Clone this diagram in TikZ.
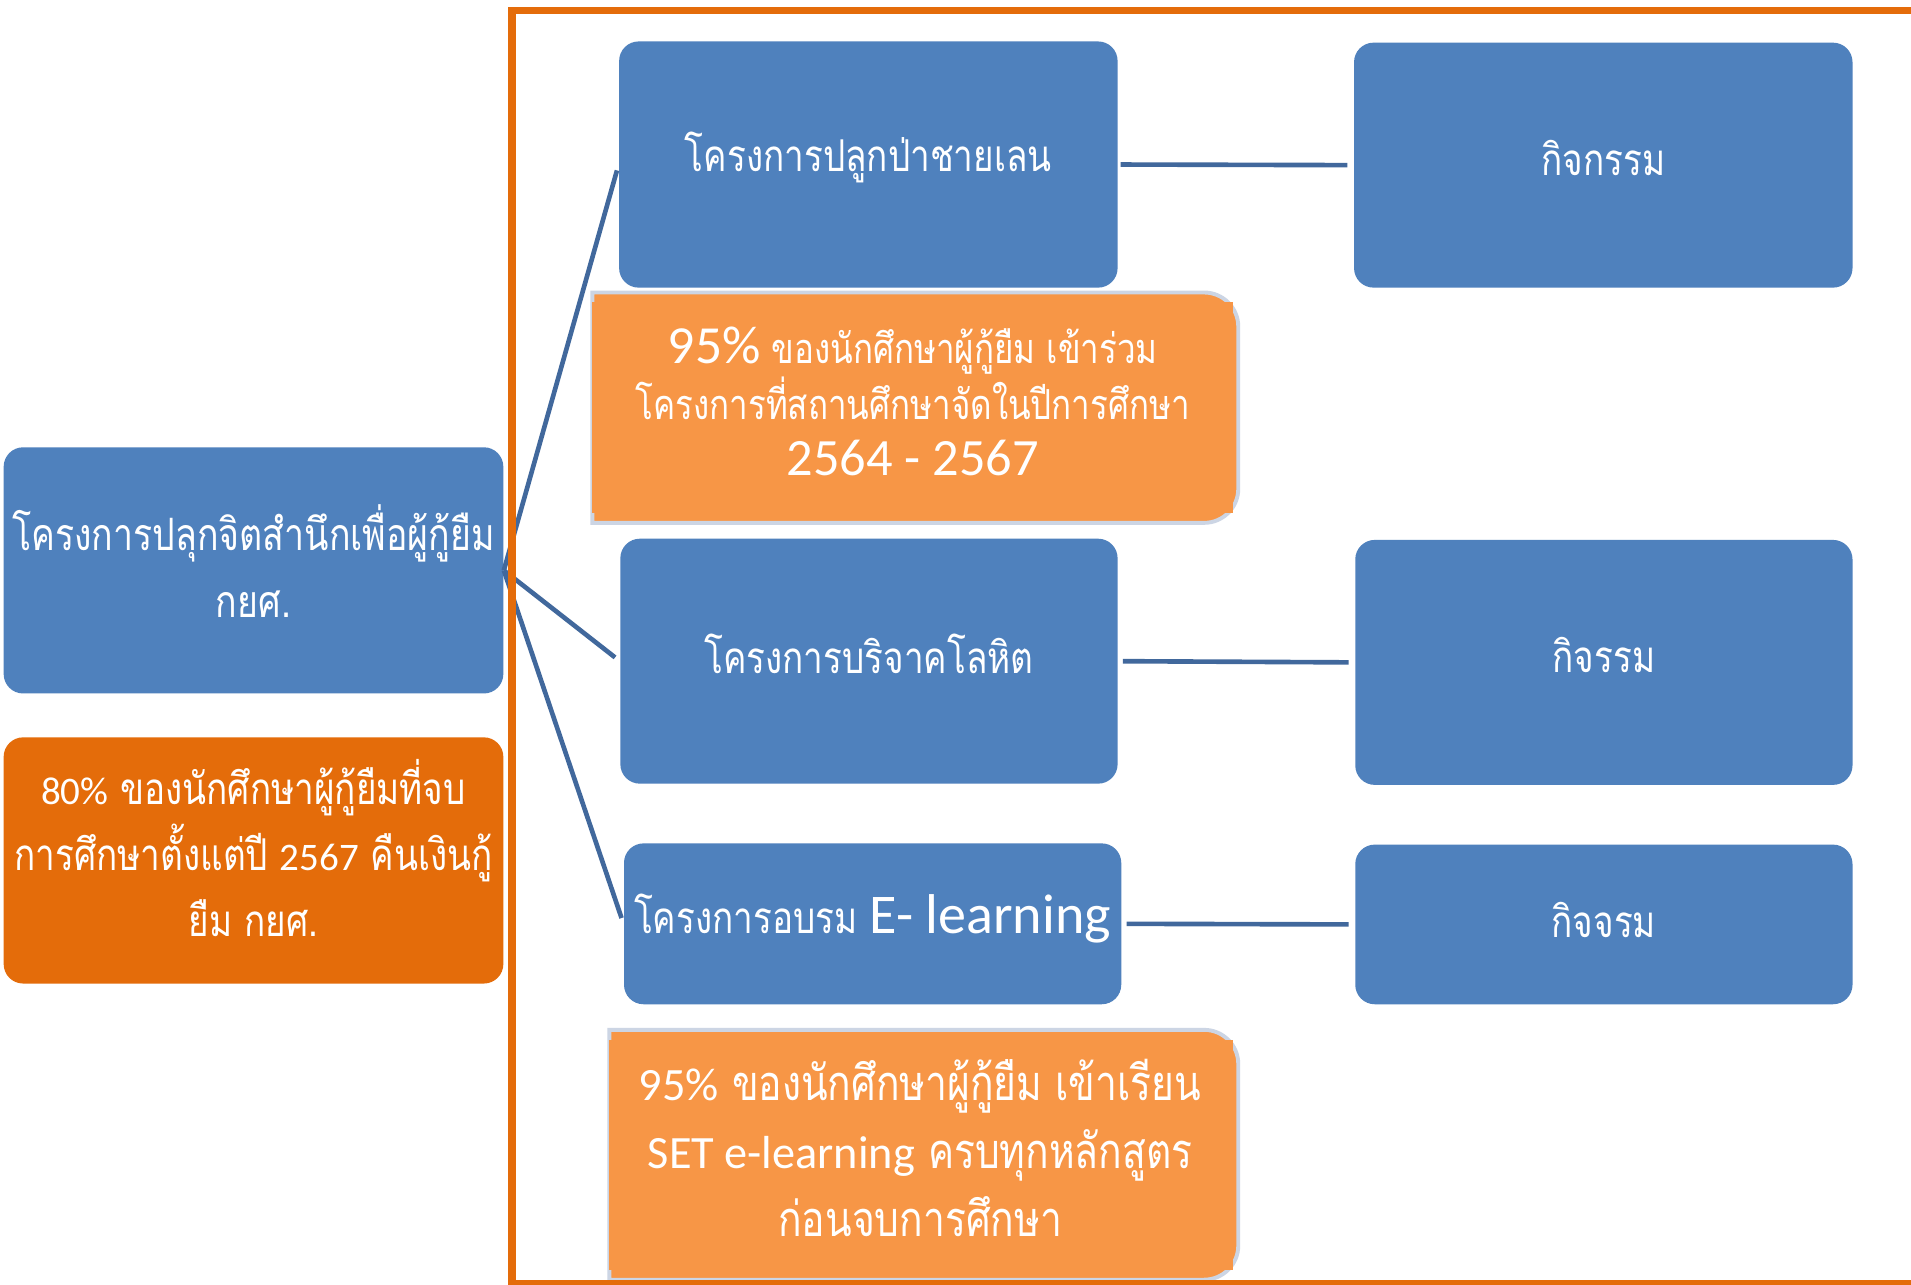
\documentclass[tikz,border=0pt]{standalone}
\usepackage{fontspec}
\setmainfont[Script=Thai,FakeStretch=0.80]{Loma}
\newfontfamily\lat{Carlito}
\newcommand\ltxt[2]{{\lat\fontsize{#1}{#1}\selectfont #2}}
\newcommand\thM{\fontsize{18pt}{27.5pt}\selectfont}
\definecolor{boxblue}{HTML}{4F81BD}
\definecolor{linkblue}{HTML}{41689C}
\definecolor{darkor}{HTML}{E46C0A}
\definecolor{lightor}{HTML}{F79646}
\definecolor{glow}{HTML}{CCD5E4}
\begin{document}
\begin{tikzpicture}[x=0.5pt,y=-0.5pt,
  bluebox/.style={fill=boxblue, rounded corners=8pt, inner sep=0pt},
  orbox/.style={fill=darkor, rounded corners=8pt, inner sep=0pt},
  txt/.style={text=white, align=center, inner sep=0pt, font=\thM},
  conn/.style={draw=linkblue, line width=1.9pt},
  callout/.style={draw=glow, line width=1.6pt, fill=lightor},
  frame/.style={draw=darkor, line width=3pt}]
\useasboundingbox (0,0) rectangle (1568,1054);
\fill[white] (0,0) rectangle (1568,1054);

% left column
\node[bluebox, minimum width=205pt, minimum height=101pt] (L) at (208,468) {};
\node[txt, font=\fontsize{18.3pt}{27.5pt}\selectfont] (Lt) at ([yshift=4pt]L.center)
  {โครงการปลุกจิตสำนึกเพื่อผู้กู้ยืม\\กยศ.};
\node[orbox, minimum width=205pt, minimum height=101pt] (LO) at (208,706) {};
\node[txt, font=\fontsize{18pt}{27pt}\selectfont] (LOt) at ([yshift=5pt]LO.center)
  {\ltxt{16pt}{80\%} ของนักศึกษาผู้กู้ยืมที่จบ\\การศึกษาตั้งแต่ปี \ltxt{16pt}{2567} คืนเงินกู้\\ยืม กยศ.};

% project boxes
\node[bluebox, minimum width=204.5pt, minimum height=101pt] (b1) at (712.5,135) {};
\node[txt] (b1t) at ([yshift=3pt]b1.center) {โครงการปลูกป่าชายเลน};
\node[bluebox, minimum width=204.5pt, minimum height=100.5pt] (r1) at (1315.5,135.5) {};
\node[txt] (r1t) at ([yshift=3pt]r1.center) {กิจกรรม};
\node[bluebox, minimum width=204pt, minimum height=100.5pt] (b2) at (713,542.5) {};
\node[txt] (b2t) at ([yshift=3pt]b2.center) {โครงการบริจาคโลหิต};
\node[bluebox, minimum width=204pt, minimum height=100.5pt] (r2) at (1316,543.5) {};
\node[txt] (r2t) at ([yshift=3pt]r2.center) {กิจรรม};
\node[bluebox, minimum width=204pt, minimum height=66pt] (b3) at (716,758) {};
\node[txt] (b3t) at ([yshift=2pt]b3.center) {โครงการอบรม \ltxt{23pt}{E- learning}};
\node[bluebox, minimum width=204pt, minimum height=65.5pt] (r3) at (1316,758.5) {};
\node[txt] (r3t) at ([yshift=2pt]r3.center) {กิจจรม};

% callout 1
\path[callout] (486,240) -- (988,240) arc[start angle=-90,end angle=0,radius=28] -- (1016,401)
  arc[start angle=0,end angle=90,radius=28] -- (486,429) -- cycle;
\fill[lightor] (486,248) rectangle (1012,421);
\node[txt, font=\fontsize{17pt}{23pt}\selectfont] (c1) at (749,329)
  {\ltxt{22pt}{95\%} ของนักศึกษาผู้กู้ยืม เข้าร่วม\\โครงการที่สถานศึกษาจัดในปีการศึกษา\\\ltxt{21.5pt}{2564 - 2567}};

% callout 2
\path[callout] (500,845) -- (988,845) arc[start angle=-90,end angle=0,radius=28] -- (1016,1022)
  arc[start angle=0,end angle=90,radius=28] -- (500,1050) -- cycle;
\fill[lightor] (500,853) rectangle (1012,1042);
\node[txt, font=\fontsize{20pt}{28pt}\selectfont] (c2) at (755,942)
  {\ltxt{19pt}{95\%} ของนักศึกษาผู้กู้ยืม เข้าเรียน\\\ltxt{19pt}{SET e-learning} ครบทุกหลักสูตร\\ก่อนจบการศึกษา};

% connectors
\draw[conn, shorten >=2.5pt] (L.east) -- (b1.west);
\draw[conn, shorten >=2.5pt] (L.east) -- (b2.west);
\draw[conn, shorten >=2.5pt] (L.east) -- (b3.west);
\draw[conn, shorten <=1pt, shorten >=2.5pt] (b1.east) -- (r1.west);
\draw[conn, shorten <=2pt, shorten >=2.5pt] (b2.east) -- (r2.west);
\draw[conn, shorten <=2pt, shorten >=2.5pt] (b3.east) -- (r3.west);

% frame
\draw[frame] (1590,8.5) -- (420,8.5) -- (420,1053) -- (1590,1053);
\end{tikzpicture}
\end{document}
